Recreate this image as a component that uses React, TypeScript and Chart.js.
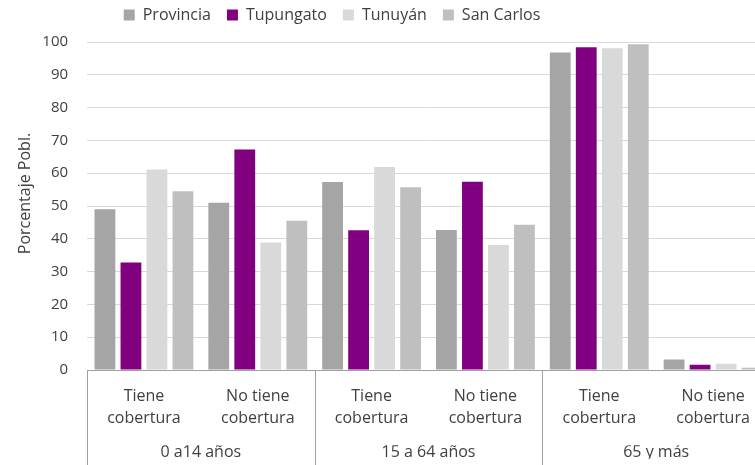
import React, { useEffect, useRef } from "react";
import { Chart, registerables } from "chart.js";

Chart.register(...registerables);

const categories: string[][] = [
  ["Tiene", "cobertura"],
  ["No tiene", "cobertura"],
  ["Tiene", "cobertura"],
  ["No tiene", "cobertura"],
  ["Tiene", "cobertura"],
  ["No tiene", "cobertura"],
];
const groupLabels = ["0 a14 años", "15 a 64 años", "65 y más"];
const seriesNames = ["Provincia", "Tupungato", "Tunuyán", "San Carlos"];
const provincia = [49.0, 51.0, 57.3, 42.7, 96.8, 3.2];
const tupungato = [32.8, 67.2, 42.6, 57.4, 98.4, 1.6];
const tunuyan = [61.1, 38.9, 61.9, 38.1, 98.1, 1.9];
const sanCarlos = [54.5, 45.5, 55.7, 44.3, 99.3, 0.7];
const yTicks = [0, 10, 20, 30, 40, 50, 60, 70, 80, 90, 100];
const colors = ["#a5a5a5", "#800080", "#d9d9d9", "#bfbfbf"];

const FONT = "'Open Sans', sans-serif";
const TEXT = "#404040";

export default function App() {
  const ref = useRef<HTMLCanvasElement | null>(null);
  useEffect(() => {
    if (!ref.current) return;
    const separators = {
      id: "separators",
      afterDraw(chart: any) {
        const x = chart.scales.x;
        const ctx = chart.ctx;
        const n = groupLabels.length;
        const w = (x.right - x.left) / n;
        ctx.save();
        ctx.strokeStyle = "#a0a0a0";
        ctx.lineWidth = 1;
        for (let g = 0; g <= n; g++) {
          const px = Math.round(x.left + g * w) + 0.5;
          ctx.beginPath();
          ctx.moveTo(px, chart.chartArea.bottom);
          ctx.lineTo(px, chart.height);
          ctx.stroke();
        }
        ctx.restore();
      },
    };
    const legendTweak = {
      id: "legendTweak",
      beforeInit(chart: any) {
        const legend = chart.legend;
        if (!legend) return;
        const fit = legend.fit;
        legend.fit = function () {
          fit.bind(legend)();
          this.height += 9;
        };
      },
      afterLayout(chart: any) {
        const legend = chart.legend;
        if (!legend) return;
        legend.left = 0;
        legend.right = 2 * 332;
      },
    };
    const chart = new Chart(ref.current, {
      type: "bar",
      data: {
        labels: categories,
        datasets: [provincia, tupungato, tunuyan, sanCarlos].map((d, i) => ({
          label: seriesNames[i],
          data: d,
          backgroundColor: colors[i],
          borderWidth: 0,
          categoryPercentage: 0.914,
          barPercentage: 0.8,
        })),
      },
      options: {
        responsive: false,
        animation: false,
        devicePixelRatio: 1,
        layout: { padding: { left: 0, right: 10, top: -9, bottom: 6.2 } },
        plugins: {
          tooltip: { enabled: false },
          legend: {
            position: "top",
            labels: {
              boxWidth: 11,
              boxHeight: 11,
              padding: 16,
              color: TEXT,
              font: { family: FONT, size: 16 },
            },
          },
        },
        scales: {
          x: {
            type: "category",
            grid: { display: false, drawTicks: false },
            border: { display: true, color: "#a0a0a0", width: 1 },
            ticks: {
              color: TEXT,
              font: { family: FONT, size: 16, lineHeight: 1.35 },
              padding: 16,
              maxRotation: 0,
              autoSkip: false,
            },
          },
          x2: {
            type: "category",
            position: "bottom",
            labels: groupLabels,
            grid: { display: false, drawTicks: false },
            border: { display: false },
            ticks: {
              color: TEXT,
              font: { family: FONT, size: 16, lineHeight: 1.35 },
              padding: -4,
              maxRotation: 0,
              autoSkip: false,
            },
          },
          y: {
            min: 0,
            max: 100,
            afterBuildTicks(scale: any) {
              scale.ticks = yTicks.map((v) => ({ value: v }));
            },
            grid: { color: "#d9d9d9", lineWidth: 1, drawTicks: false },
            border: { display: false },
            ticks: {
              color: TEXT,
              font: { family: FONT, size: 15 },
              padding: 19,
            },
            title: {
              display: true,
              text: "      Porcentaje Pobl.",
              color: TEXT,
              font: { family: FONT, size: 16 },
              padding: { top: 15.4, bottom: -11.3 },
            },
          },
        },
      },
      plugins: [separators, legendTweak],
    });
    return () => chart.destroy();
  }, []);
  return (
    <div
      style={{
        position: "absolute",
        left: 0,
        top: 0,
        width: 755,
        height: 465,
        overflow: "hidden",
        background: "#fff",
      }}
    >
      <canvas ref={ref} width={780} height={465} style={{ display: "block" }} />
    </div>
  );
}
